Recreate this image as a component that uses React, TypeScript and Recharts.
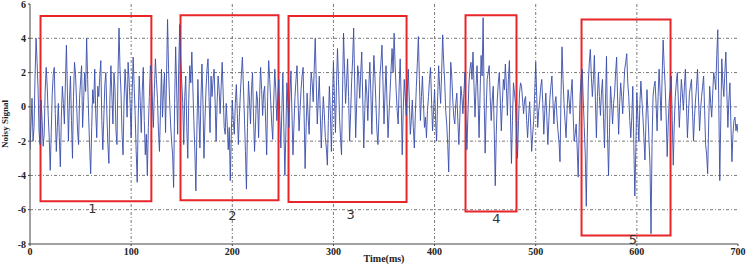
import React from 'react';
import {
  LineChart, Line, XAxis, YAxis, CartesianGrid, ReferenceArea, ReferenceDot,
} from 'recharts';

// signal samples at even milliseconds, t = 0, 2, ..., 700
const evenValues: number[] = [
  -2.5, 0.5, -1.2, 4.0, 1.0, -2.2, -0.8, -1.6, 2.3, -0.5,
  -3.7, 0.8, 2.3, -2.6, 0.2, -3.5, 1.2, -1.0, 3.6, -2.0,
  1.8, -3.0, 2.6, 0.4, -2.2, 1.5, -1.2, 2.0, 4.0, -0.6,
  -3.9, 1.0, 2.2, -1.8, 0.6, 2.7, -2.5, 1.3, -0.4, -3.3,
  2.4, -1.0, 1.1, -2.2, 4.6, 0.8, -2.8, 2.2, -0.6, 1.5,
  -1.8, 2.9, -0.5, -4.4, 1.8, -1.5, 2.3, -2.8, -4.0, 0.6,
  1.9, -1.2, 2.8, 0.5, -2.6, 2.2, 1.0, -1.5, 5.1, 0.4,
  -2.0, -4.7, 3.5, -1.6, 4.8, 1.5, -2.2, 1.8, -3.0, 2.4,
  3.2, -0.8, -4.9, 1.6, -2.4, 2.5, -3.0, 1.0, 2.8, -1.5,
  0.6, 2.2, -2.0, 1.8, -0.4, 2.6, -1.2, 0.2, -2.5, -4.3,
  0.4, -1.6, 1.3, -2.2, 0.8, 2.9, -0.6, -4.8, 1.5, -1.0,
  2.0, -2.6, 0.9, -1.8, 2.3, -0.5, 1.2, -2.8, 2.7, 0.3,
  -1.9, 2.2, -0.8, 1.6, -2.4, 2.0, -4.0, 1.4, -1.2, 2.1,
  -2.8, 0.6, 2.4, -1.4, 1.0, 2.3, -3.6, 0.8, -1.6, 2.0,
  0.3, 4.0, -1.0, 1.8, -2.4, 0.6, -1.8, -3.4, 1.2, -2.6,
  2.6, -1.5, 3.4, -0.6, -2.8, 4.3, 0.2, 2.8, -2.0, 1.5,
  4.6, -1.8, 2.4, 0.5, 3.2, -2.4, 1.6, -0.8, 2.6, -1.6,
  3.0, 0.2, -2.2, 1.8, 3.6, -1.0, 2.4, -1.8, 0.9, 3.4,
  4.3, 1.0, -1.0, 2.8, -2.8, 1.6, -0.5, 2.2, -1.6, 0.4,
  -2.4, 1.2, 4.1, -0.8, 1.8, -1.2, -1.8, 0.6, 2.3, -1.4,
  1.0, -2.0, 2.4, 0.2, 4.2, 1.5, -1.0, -3.8, 2.6, 0.4,
  -1.0, 0.8, -2.2, 1.2, -0.4, 2.0, -2.5, 1.4, 2.6, 3.2,
  -0.6, 2.4, -1.8, 3.0, 5.2, -2.7, 1.6, 2.4, -0.8, 1.2,
  -4.6, 0.4, 2.0, -1.4, 1.6, 2.5, -0.5, 2.7, -3.3, 1.4,
  0.2, -3.0, 0.8, 1.2, -0.4, 0.6, -1.8, 0.3, -2.6, -0.8,
  2.6, -1.2, 0.4, 1.6, -1.6, 0.8, -2.2, 0.5, 1.8, -1.0,
  0.6, -1.4, -3.2, 3.5, 0.2, -1.8, 1.0, -0.4, 1.6, -2.0,
  -1.0, -4.1, 0.8, 2.2, -1.2, -5.8, 1.4, 3.35, 0.6, 3.0,
  -1.8, 2.0, -0.5, 1.6, -2.4, 2.95, -4.0, 1.2, -1.0, 0.8,
  2.9, -1.6, 1.4, -0.4, 2.2, 3.1, 0.6, -1.8, 1.2, -5.2,
  0.8, -2.0, 1.5, -0.6, -3.1, 1.0, -2.0, -7.4, 0.6, 1.5,
  -1.4, 2.2, -0.8, 3.9, 1.2, -2.9, 0.4, 1.8, -3.4, 0.6,
  2.0, -1.2, 1.6, -0.2, 2.2, -1.8, 0.8, 1.6, -2.0, 0.4,
  2.2, -1.4, 0.6, 1.8, -2.2, -3.9, 1.2, -0.6, 2.0, 1.0,
  4.5, -4.3, 2.8, 0.6, 3.2, -1.2, 1.4, -3.2, -0.8, -1.4,
  -1.5,
];

// signal samples at odd milliseconds, t = 1, 3, ..., 699
const oddValues: number[] = [
  -1.0, -2.0, 1.8, 2.6, -1.5, 0.4, -2.3, 0.9, 1.2, -1.8,
  -1.5, 1.9, -0.4, -1.2, -1.8, -0.6, 0.2, 1.4, 0.8, 0.4,
  -0.8, 0.6, 1.9, -1.4, 0.5, 2.4, 0.3, 0.9, 1.6, -2.4,
  -1.2, 0.2, -0.4, 1.2, 1.8, -0.8, -0.6, 2.0, -2.2, 0.4,
  0.6, 2.0, -1.4, 1.9, 2.2, -1.6, 0.4, 1.0, 2.6, 0.2,
  0.8, 1.2, -2.6, -0.6, 0.3, 0.9, -0.8, -1.6, -1.2, 2.4,
  0.4, 1.0, 1.6, -1.4, -0.2, -0.6, 2.0, 1.8, 2.2, -1.0,
  -2.8, 0.2, 1.0, 2.2, 2.8, 0.2, 0.6, -1.2, 0.5, 1.4,
  1.2, -2.6, -1.4, -0.6, 0.4, 0.2, -0.8, 2.2, 0.6, 1.8,
  1.6, 0.4, 0.2, 1.0, 1.2, 0.8, -1.6, -1.0, -1.2, -1.6,
  -0.8, 0.2, -0.4, -0.6, 1.9, 1.2, -2.6, -1.2, 0.4, 1.0,
  -0.6, -1.0, 0.4, 0.6, 1.0, 0.8, -0.9, 0.6, 1.6, -1.0,
  0.4, 1.0, 0.6, -0.6, -0.2, -1.2, -1.4, 0.2, 0.8, -0.4,
  -1.0, 1.6, 0.4, -0.2, 1.8, -0.4, -1.2, -0.6, 0.6, 1.4,
  2.2, 1.6, 0.4, -0.4, -0.8, -0.4, -2.4, -0.8, -0.4, 0.2,
  0.6, 1.2, 1.6, -1.8, 0.8, 2.2, 1.4, 0.6, -0.4, 2.8,
  1.4, 0.2, 1.8, 2.0, 0.4, -0.2, 0.8, 1.2, 0.8, 1.0,
  1.8, -1.4, -0.6, 2.6, 1.4, 0.8, 0.2, -0.4, 2.2, 2.0,
  2.4, -0.2, 1.2, 0.4, -0.2, 0.6, 0.9, 0.4, -0.8, -1.2,
  -0.4, 2.6, 1.6, 0.6, 0.2, -0.6, -0.2, 1.6, 0.4, -0.2,
  -0.8, 0.4, 1.2, 2.0, 2.6, -0.2, -2.2, -0.4, 1.8, -0.6,
  0.2, -0.8, -0.6, 0.6, 0.8, -0.6, -0.4, 2.2, 1.6, 1.2,
  1.2, 0.4, 0.8, 1.8, 0.6, -0.2, 2.0, 0.6, 0.4, -1.4,
  -1.6, 1.4, 0.4, 0.2, 1.0, 1.2, 1.6, -0.4, -0.8, 0.8,
  -1.4, -0.8, 1.4, 0.4, 0.4, -0.8, -0.6, -1.0, -1.6, 0.8,
  0.6, -0.2, 1.2, 0.2, -0.2, -0.6, -0.8, 1.2, 0.4, 0.2,
  -0.6, -2.0, 0.6, 1.6, -0.8, -0.2, 0.4, 0.8, -0.4, -1.6,
  -2.4, -1.2, 1.8, 0.4, -2.8, -1.8, 2.6, 1.8, 1.6, 0.4,
  0.6, 0.6, 0.8, -0.6, 0.4, -1.6, -1.2, 0.2, 0.2, 2.0,
  0.4, 0.2, 0.6, 1.0, 2.6, 1.4, -0.8, -0.6, -2.2, -2.4,
  -0.6, 0.2, 0.4, -1.8, -0.8, -0.4, -3.4, -2.2, 1.2, 0.2,
  0.6, 0.8, 1.8, 2.4, -0.6, -1.0, 1.0, -0.8, -1.0, 1.4,
  0.4, 0.2, 0.8, 1.2, 0.2, -0.4, 1.2, -0.2, -0.6, 1.2,
  0.4, -0.2, 1.2, -0.2, -2.8, -1.0, 0.2, 0.8, 1.6, 3.0,
  0.2, -0.6, 1.4, 2.0, 0.8, 0.4, -1.0, -1.6, -0.6, -1.0,
];

const xTicks = [0, 100, 200, 300, 400, 500, 600, 700];
const yTicks = [-8, -6, -4, -2, 0, 2, 4, 6];

const boxNames = ['1', '2', '3', '4', '5'];
const boxX1 = [10.4, 148.8, 255.6, 430.6, 545.3];
const boxX2 = [120, 245.7, 372.3, 481, 633.3];
const boxTop = [5.3, 5.35, 5.3, 5.35, 5.1];
const boxBottom = [-5.5, -5.45, -5.55, -6.1, -7.5];
const labelX = [61.8, 200, 317, 461, 596];
const labelY = [-5.9, -6.35, -6.3, -6.5, -7.75];

const data: { t: number; v: number }[] = [];
for (let t = 0; t <= 700; t++) {
  const v = t % 2 === 0 ? evenValues[t / 2] : oddValues[(t - 1) / 2];
  data.push({ t, v });
}

const tickStyle = {
  fontFamily: 'Liberation Serif, serif',
  fontWeight: 700,
  fontSize: 10,
  fill: '#222',
};

export default function App() {
  return (
    <div style={{ position: 'absolute', left: 0, top: 0 }}>
      <LineChart
        width={750}
        height={265}
        data={data}
        margin={{ top: 4, right: 12, bottom: 0, left: 0 }}
      >
        <CartesianGrid
          stroke="#555"
          strokeDasharray="3 2 1 2"
          strokeWidth={0.8}
          horizontalValues={[-6, -4, -2, 0, 2, 4]}
          verticalValues={[100, 200, 300, 400, 500, 600]}
        />
        <XAxis
          dataKey="t"
          type="number"
          domain={[0, 700]}
          allowDataOverflow
          ticks={xTicks}
          height={21}
          tick={tickStyle}
          tickSize={2}
          stroke="#444"
          label={{
            value: 'Time(ms)',
            position: 'insideBottom',
            offset: 3,
            style: { ...tickStyle, fontSize: 10 },
          }}
        />
        <XAxis
          xAxisId="top"
          orientation="top"
          dataKey="t"
          type="number"
          domain={[0, 700]}
          allowDataOverflow
          ticks={xTicks}
          height={0}
          tick={false}
          tickLine={false}
          stroke="#888"
        />
        <YAxis
          type="number"
          domain={[-8, 6]}
          allowDataOverflow
          ticks={yTicks}
          width={30}
          tick={tickStyle}
          tickSize={2}
          stroke="#444"
          interval={0}
          label={{
            value: 'Noisy Signal',
            angle: -90,
            position: 'insideLeft',
            offset: 5,
            style: { ...tickStyle, fontSize: 9, textAnchor: 'middle' },
          }}
        />
        <YAxis
          yAxisId="right"
          orientation="right"
          type="number"
          domain={[-8, 6]}
          width={0}
          tick={false}
          tickLine={false}
          stroke="#888"
        />
        <Line
          dataKey="v"
          stroke="#3a4eaa"
          strokeWidth={1}
          strokeOpacity={0.9}
          dot={false}
          isAnimationActive={false}
        />
        {boxNames.map((n, i) => (
          <ReferenceArea
            key={'box' + n}
            x1={boxX1[i]}
            x2={boxX2[i]}
            y1={boxBottom[i]}
            y2={boxTop[i]}
            fill="none"
            fillOpacity={0}
            stroke="#e8262a"
            strokeWidth={2}
            strokeOpacity={1}
            ifOverflow="visible"
          />
        ))}
        {boxNames.map((n, i) => (
          <ReferenceDot
            key={'lab' + n}
            x={labelX[i]}
            y={labelY[i]}
            r={0}
            fill="none"
            stroke="none"
            ifOverflow="visible"
            label={{
              value: n,
              position: 'center',
              style: {
                fontFamily: 'DejaVu Sans, sans-serif',
                fontSize: 13,
                fill: '#333',
              },
            }}
          />
        ))}
      </LineChart>
    </div>
  );
}
